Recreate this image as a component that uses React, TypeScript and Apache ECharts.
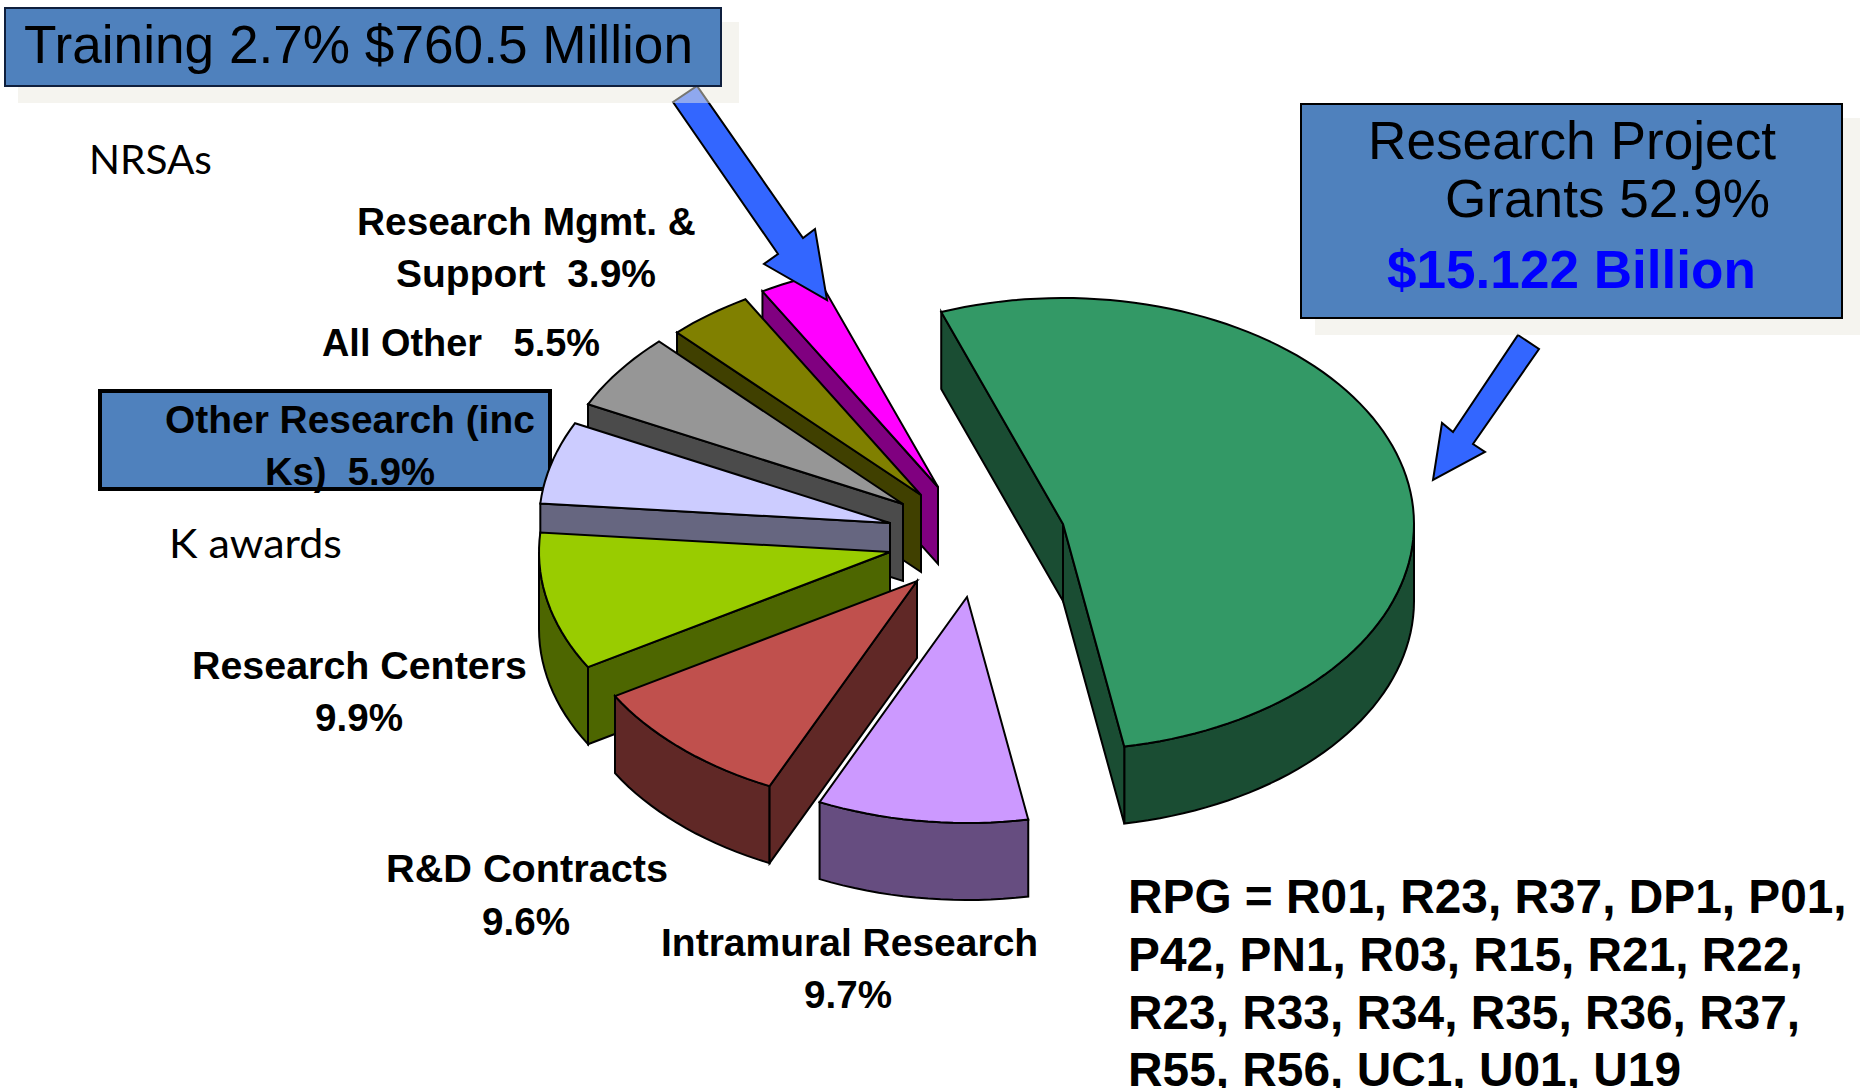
import React, { useEffect, useRef } from "react";
import * as echarts from "echarts";

// ---- data, clockwise from the top of the pie ----
const sliceNames = [
  "Research Project Grants", "Intramural Research", "R&D Contracts", "Research Centers",
  "Other Research (inc Ks)", "All Other", "Research Mgmt. & Support", "Training",
];
const sliceValues = [52.9, 9.7, 9.6, 9.9, 5.9, 5.5, 3.9, 2.7];
const topColors = ["#339966", "#cc99ff", "#c0504d", "#99cc00", "#ccccff", "#969696", "#808000", "#ff00ff"];
const sideColors = ["#1a4d33", "#664d80", "#602826", "#4d6600", "#666680", "#4b4b4b", "#404000", "#800080"];
const drawOrder = [7, 6, 5, 4, 3, 2, 1, 0];

const rpgLines = [
  "RPG = R01, R23, R37, DP1, P01,",
  "P42, PN1, R03, R15, R21, R22,",
  "R23, R33, R34, R35, R36, R37,",
  "R55, R56, UC1, U01, U19",
];

// ---- layout ----
const apexX = [1063, 967, 917, 890, 890, 903, 921, 938];
const apexY = [524, 597, 581, 552, 523, 504, 495, 487];
const RX = 351, RY = 226, DEPTH = 77, START_DEG = -20.3;
const SANS = '"Liberation Sans"';
const BOX = "#4f81bd";
const SHADOW = "#ebe9df";

type T = [string, number, number, number, number, string, string?, string?];
// text, left, right, baseline, size, weight, colour, family
const texts: T[] = [
  ["Training 2.7% $760.5 Million", 24, 693, 63, 54, "normal"],
  ["Research Project", 1368, 1776, 159, 53, "normal"],
  ["Grants 52.9%", 1445, 1770, 217, 53, "normal"],
  ["$15.122 Billion", 1387, 1756, 288, 53, "bold", "#0000ff"],
  ["Research Mgmt. &", 357, 696, 235, 39, "bold"],
  ["Support  3.9%", 396, 656, 287, 39, "bold"],
  ["All Other   5.5%", 322, 600, 356, 39, "bold"],
  ["Other Research (inc", 165, 535, 433, 39, "bold"],
  ["Ks)  5.9%", 265, 435, 485, 39, "bold"],
  ["Research Centers", 192, 527, 679, 39, "bold"],
  ["9.9%", 315, 403, 731, 39, "bold"],
  ["R&D Contracts", 386, 668, 882, 39, "bold"],
  ["9.6%", 482, 570, 935, 39, "bold"],
  ["Intramural Research", 661, 1038, 956, 39, "bold"],
  ["9.7%", 804, 892, 1008, 39, "bold"],
  ["NRSAs", 89, 212, 174, 41, "normal", "#000", "Lato"],
  ["K awards", 169, 342, 558, 41, "normal", "#000", "Lato"],
  [rpgLines[0], 1128, 1847, 913, 48, "bold"],
  [rpgLines[1], 1128, 1803, 971, 48, "bold"],
  [rpgLines[2], 1128, 1800, 1029, 48, "bold"],
  [rpgLines[3], 1128, 1681, 1086, 48, "bold"],
];

const arrowA = [[673, 102], [697, 86], [803, 238], [815, 229], [827, 300], [764, 264], [778, 254]];
const arrowB = [[1518, 335], [1539, 349], [1473, 444], [1485, 452], [1433, 480], [1442, 423], [1453, 432]];

function polarPoint(cx: number, cy: number, deg: number) {
  const a = (deg * Math.PI) / 180;
  return [cx + RX * Math.sin(a), cy - RY * Math.cos(a)];
}

function startAngle(i: number) {
  const total = sliceValues.reduce((s, v) => s + v, 0);
  let sum = 0;
  for (let k = 0; k < i; k++) sum += sliceValues[k];
  return START_DEG + (sum / total) * 360;
}

// A cut face shows only when "straight down" leaves the slice across that edge.
function faceVisible(apex: number[], edge: number[], inner: number[]) {
  const ex = edge[0] - apex[0], ey = edge[1] - apex[1];
  const crossDown = ex * 1;
  const crossInner = ex * (inner[1] - apex[1]) - ey * (inner[0] - apex[0]);
  return crossDown * crossInner < 0;
}

function renderSlice(params: any, api: any) {
  const i = drawOrder[params.dataIndex];
  const total = sliceValues.reduce((s, v) => s + v, 0);
  const from = startAngle(i);
  const to = from + (api.value(0) / total) * 360;
  const cx = apexX[i], cy = apexY[i];
  const arc: number[][] = [];
  const steps = Math.max(8, Math.round((to - from) / 2));
  for (let s = 0; s <= steps; s++) arc.push(polarPoint(cx, cy, from + ((to - from) * s) / steps));

  // the rim is seen only on the lower half of the ellipse
  const rimFrom = Math.max(from, 90), rimTo = Math.min(to, 270);
  const rim: number[][] = [];
  if (rimTo > rimFrom) {
    const n = Math.max(4, Math.round((rimTo - rimFrom) / 2));
    for (let s = 0; s <= n; s++) rim.push(polarPoint(cx, cy, rimFrom + ((rimTo - rimFrom) * s) / n));
  }

  const down = (p: number[]) => [p[0], p[1] + DEPTH];
  const first = arc[0], last = arc[arc.length - 1], mid = arc[Math.floor(arc.length / 2)], apex = [cx, cy];
  const side = { fill: sideColors[i], stroke: "#000", lineWidth: 2, lineJoin: "miter" };
  const top = { fill: topColors[i], stroke: "#000", lineWidth: 2, lineJoin: "miter" };
  const poly = (points: number[][], style: any) => ({ type: "polygon", shape: { points }, style });
  const children: any[] = [];
  if (rim.length) children.push(poly([...rim, ...rim.slice().reverse().map(down)], side));
  if (faceVisible(apex, first, mid)) children.push(poly([apex, first, down(first), down(apex)], side));
  if (faceVisible(apex, last, mid)) children.push(poly([apex, last, down(last), down(apex)], side));
  children.push(poly([apex, ...arc], top));
  return { type: "group", children };
}

export default function App() {
  const ref = useRef<HTMLDivElement>(null);
  useEffect(() => {
    document.body.style.margin = "0";
    document.body.style.overflow = "hidden";
    const ctx = document.createElement("canvas").getContext("2d")!;
    const chart = echarts.init(ref.current!, undefined, { renderer: "svg" });

    const textEls = texts.map(([text, left, right, base, size, weight, color, family]) => {
      const fam = family ? `"${family}"` : SANS;
      const font = `${weight} ${size}px ${fam}`;
      ctx.font = font;
      const w = ctx.measureText(text).width;
      const central = family ? 0.387 : 0.3465;
      return {
        type: "text",
        x: left,
        y: base - central * size,
        scaleX: (right - left) / w,
        z: 20,
        style: {
          text,
          font,
          fill: color || "#000",
          textAlign: "left",
          verticalAlign: "middle",
        },
      };
    });

    const rect = (x0: number, y0: number, x1: number, y1: number, z: number, style: any) => ({
      type: "rect", z, shape: { x: x0, y: y0, width: x1 - x0, height: y1 - y0 }, style,
    });
    const arrowStyle = { fill: "#3366ff", stroke: "#000", lineWidth: 2, lineJoin: "miter" };

    chart.setOption({
      animation: false,
      backgroundColor: "#ffffff",
      series: [
        {
          type: "custom",
          coordinateSystem: "none",
          z: 5,
          silent: true,
          renderItem: renderSlice,
          data: drawOrder.map((i) => ({ name: sliceNames[i], value: [sliceValues[i]] })),
        },
      ],
      graphic: {
        elements: [
          rect(100, 391, 550, 489, 1, { fill: BOX, stroke: "#000", lineWidth: 4 }),
          { type: "polygon", z: 10, shape: { points: arrowA }, style: arrowStyle },
          { type: "polygon", z: 10, shape: { points: arrowB }, style: arrowStyle },
          rect(18, 22, 739, 103, 11, { fill: SHADOW, opacity: 0.5 }),
          rect(1315, 118, 1860, 335, 11, { fill: SHADOW, opacity: 0.5 }),
          rect(5, 8, 721, 86, 12, { fill: BOX, stroke: "#0f1f3d", lineWidth: 2 }),
          rect(1301, 104, 1842, 318, 12, { fill: BOX, stroke: "#000", lineWidth: 2 }),
          ...textEls,
        ],
      },
    });
    return () => chart.dispose();
  }, []);
  return <div ref={ref} style={{ width: 1865, height: 1088 }} />;
}
